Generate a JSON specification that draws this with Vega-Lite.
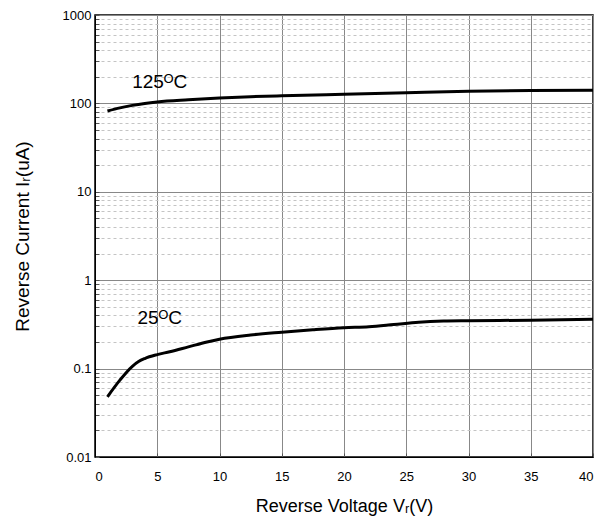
{
  "$schema": "https://vega.github.io/schema/vega-lite/v6.json",
  "width": 498,
  "height": 442,
  "padding": {"left": 13, "top": 9, "right": 10, "bottom": 5},
  "background": "white",
  "config": {
    "font": "Liberation Sans",
    "view": {"stroke": "#000", "strokeWidth": 1.5},
    "axis": {"labelFont": "Liberation Sans", "titleFont": "Liberation Sans", "labelColor": "#000", "titleColor": "#000", "titleFontWeight": "normal", "labelFontSize": 13, "titleFontSize": 18, "domainColor": "#000", "tickColor": "#555", "tickSize": -4}
  },
  "datasets": {
    "curves": [
      {"v": 1, "i": 82, "t": "125"},
      {"v": 2, "i": 89, "t": "125"},
      {"v": 3, "i": 95, "t": "125"},
      {"v": 4, "i": 100, "t": "125"},
      {"v": 5, "i": 104, "t": "125"},
      {"v": 7.5, "i": 110, "t": "125"},
      {"v": 10, "i": 115, "t": "125"},
      {"v": 12.5, "i": 119, "t": "125"},
      {"v": 15, "i": 122, "t": "125"},
      {"v": 20, "i": 127, "t": "125"},
      {"v": 25, "i": 132, "t": "125"},
      {"v": 30, "i": 137, "t": "125"},
      {"v": 35, "i": 140, "t": "125"},
      {"v": 40, "i": 141, "t": "125"},
      {"v": 1, "i": 0.048, "t": "25"},
      {"v": 2, "i": 0.074, "t": "25"},
      {"v": 3, "i": 0.106, "t": "25"},
      {"v": 3.5, "i": 0.12, "t": "25"},
      {"v": 4, "i": 0.13, "t": "25"},
      {"v": 5, "i": 0.144, "t": "25"},
      {"v": 6, "i": 0.155, "t": "25"},
      {"v": 7.5, "i": 0.176, "t": "25"},
      {"v": 9, "i": 0.2, "t": "25"},
      {"v": 10, "i": 0.215, "t": "25"},
      {"v": 12.5, "i": 0.24, "t": "25"},
      {"v": 15, "i": 0.258, "t": "25"},
      {"v": 17.5, "i": 0.275, "t": "25"},
      {"v": 20, "i": 0.29, "t": "25"},
      {"v": 22, "i": 0.297, "t": "25"},
      {"v": 24, "i": 0.315, "t": "25"},
      {"v": 26, "i": 0.335, "t": "25"},
      {"v": 28, "i": 0.345, "t": "25"},
      {"v": 30, "i": 0.348, "t": "25"},
      {"v": 35, "i": 0.353, "t": "25"},
      {"v": 40, "i": 0.362, "t": "25"}
    ],
    "labels": [
      {"v": 5.2, "i": 175, "txt": "125ᴼC"},
      {"v": 5.2, "i": 0.37, "txt": "25ᴼC"}
    ]
  },
  "layer": [
    {
      "data": {"name": "curves"},
      "mark": {"type": "line", "color": "#000", "strokeWidth": 3, "interpolate": "monotone"},
      "encoding": {
        "x": {
          "field": "v", "type": "quantitative",
          "scale": {"domain": [0, 40], "nice": false},
          "axis": {
            "title": "Reverse Voltage Vᵣ(V)",
            "values": [0, 2.5, 5, 7.5, 10, 12.5, 15, 17.5, 20, 22.5, 25, 27.5, 30, 32.5, 35, 37.5, 40],
            "labelExpr": "datum.value % 5 === 0 ? datum.label : ''",
            "labelOverlap": false,
            "labelPadding": 17,
            "titlePadding": 14,
            "grid": true,
            "gridColor": {"condition": {"test": "datum.value % 5 === 0", "value": "#888"}, "value": "#c4c4c4"},
            "gridDash": {"condition": {"test": "datum.value % 5 === 0", "value": []}, "value": [3, 3]},
            "gridWidth": 1
          }
        },
        "y": {
          "field": "i", "type": "quantitative",
          "scale": {"type": "log", "domain": [0.01, 1000], "nice": false},
          "axis": {
            "title": "Reverse Current Iᵣ(uA)",
            "titleFontSize": 19,
            "values": [0.01, 0.02, 0.03, 0.04, 0.05, 0.06, 0.07, 0.08, 0.09, 0.1, 0.2, 0.3, 0.4, 0.5, 0.6, 0.7, 0.8, 0.9, 1, 2, 3, 4, 5, 6, 7, 8, 9, 10, 20, 30, 40, 50, 60, 70, 80, 90, 100, 200, 300, 400, 500, 600, 700, 800, 900, 1000],
            "labelExpr": "indexof([0.01,0.1,1,10,100,1000], datum.value) >= 0 ? (datum.value >= 1 ? format(datum.value, 'd') : format(datum.value, '.2~f')) : ''",
            "labelOverlap": false,
            "labelPadding": 8,
            "titlePadding": 30,
            "grid": true,
            "gridColor": {"condition": {"test": "indexof([0.01,0.1,1,10,100,1000], datum.value) >= 0", "value": "#888"}, "value": "#c4c4c4"},
            "gridDash": {"condition": {"test": "indexof([0.01,0.1,1,10,100,1000], datum.value) >= 0", "value": []}, "value": [3, 3]},
            "gridWidth": 1
          }
        },
        "detail": {"field": "t"}
      }
    },
    {
      "data": {"name": "labels"},
      "mark": {"type": "text", "fontSize": 19, "color": "#000", "baseline": "middle", "align": "center"},
      "encoding": {
        "x": {"field": "v", "type": "quantitative"},
        "y": {"field": "i", "type": "quantitative"},
        "text": {"field": "txt"}
      }
    }
  ]
}
